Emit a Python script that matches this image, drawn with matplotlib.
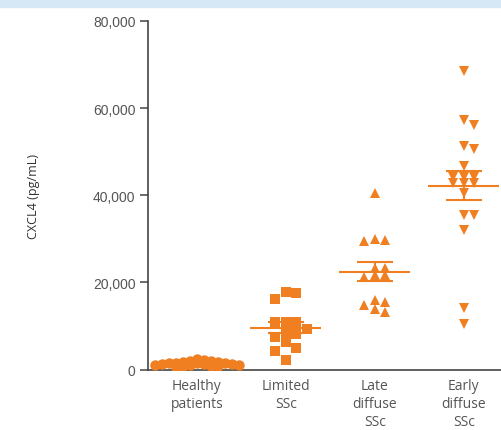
import numpy as np
import matplotlib.pyplot as plt
from matplotlib.patches import Rectangle
from matplotlib.ticker import FuncFormatter

# CXCL4 levels per group (pg/mL)
groups = ['Healthy\npatients', 'Limited\nSSc', 'Late\ndiffuse\nSSc', 'Early\ndiffuse\nSSc']
healthy = [600, 700, 800, 900, 1000, 1000, 1100, 1200, 1300, 1300, 1400, 1500,
           1600, 1600, 1700, 1800, 1900, 2000, 2200, 2400]
limited = [17700, 17500, 16100, 10900, 10900, 10850, 9200, 8600, 8100, 7400,
           6300, 4900, 4200, 2200]
late = [40500, 30000, 29600, 29800, 23400, 23400, 21800, 21800, 21200, 16000,
        15400, 14700, 13800, 13100]
early = [68500, 57300, 56100, 51200, 50600, 46700, 44300, 44300, 44300, 42900,
         42900, 42900, 40500, 35500, 35500, 32000, 14200, 10400]
markers = ['o', 's', '^', 'v']

orange = '#f07f22'
grey = '#555555'

W, H = 502, 431
fig = plt.figure(figsize=(W / 100, H / 100), dpi=100)
fig.patches.append(Rectangle((0, 1 - 8 / H), 1, 8 / H, transform=fig.transFigure,
                             color='#d6e8f5', zorder=0))

ax = fig.add_axes([148 / W, (H - 370.5) / H, 1 - 148 / W, (370.5 - 22) / H])
xmin, xmax = -0.55, 3.43
ymin, ymax = 0, 80000
ax.set_xlim(xmin, xmax)
ax.set_ylim(ymin, ymax)

# px per data unit, used by the swarm layout
px_x = (W - 148) / (xmax - xmin)
px_y = (370.5 - 22) / (ymax - ymin)


def swarm(vals, dx=10.5, dy=6.0, half=False):
    # simple beeswarm on a grid, points may overlap a bit vertically
    step = dx / 2 if half else dx
    placed = []
    offs = np.zeros(len(vals))
    order = np.argsort(vals)[::-1]
    cands = [0]
    for k in range(1, 20):
        cands += [k * step, -k * step]
    for i in order:
        y = vals[i] * px_y
        for c in cands:
            ok = True
            for (px, py) in placed:
                if ((px - c) / dx) ** 2 + ((py - y) / dy) ** 2 < 0.999:
                    ok = False
                    break
            if ok:
                placed.append((c, y))
                offs[i] = c / px_x
                break
    return offs


data = [healthy, limited, late, early]
gaps = [(7, 4), (10.5, 9.5), (10.5, 6.5), (10.5, 6.0)]
for i, vals in enumerate(data):
    vals = np.array(vals, dtype=float)
    offs = swarm(vals, dx=gaps[i][0], dy=gaps[i][1], half=(i == 0))
    ax.plot(i + offs, vals, linestyle='none', marker=markers[i], color=orange,
            markersize=6.5 if i > 0 else 7.5, markeredgewidth=0, zorder=3)
    m = vals.mean()
    sem = vals.std(ddof=1) / np.sqrt(len(vals))
    ax.hlines(m, i - 0.4, i + 0.4, color=orange, lw=1.5, zorder=4)
    ax.hlines([m - sem, m + sem], i - 0.2, i + 0.2, color=orange, lw=1.5, zorder=4)
    ax.vlines(i, m - sem, m + sem, color=orange, lw=1.5, zorder=4)

ax.spines['top'].set_visible(False)
ax.spines['right'].set_visible(False)
ax.spines['left'].set_color('#444444')
ax.spines['bottom'].set_color('#444444')
ax.spines['left'].set_linewidth(1.2)
ax.spines['bottom'].set_linewidth(1.2)

ax.set_yticks([0, 20000, 40000, 60000, 80000])
ax.yaxis.set_major_formatter(FuncFormatter(lambda v, p: f'{int(v):,}'))
ax.tick_params(axis='y', length=6, width=1.1, color='#444444', labelcolor=grey,
               labelsize=10, pad=3)
for t in ax.get_yticklabels():
    t.set_fontfamily('Liberation Sans')

ax.set_xticks(range(4))
ax.set_xticklabels(groups, fontfamily='Open Sans', fontsize=10, color=grey,
                   linespacing=1.3)
ax.tick_params(axis='x', length=0, pad=6)

ax.set_ylabel('CXCL4 (pg/mL)', fontfamily='Open Sans', fontsize=9, color='#333333')
ax.yaxis.set_label_coords(-0.305, 0.5)

fig.savefig('out.png', dpi=100)
